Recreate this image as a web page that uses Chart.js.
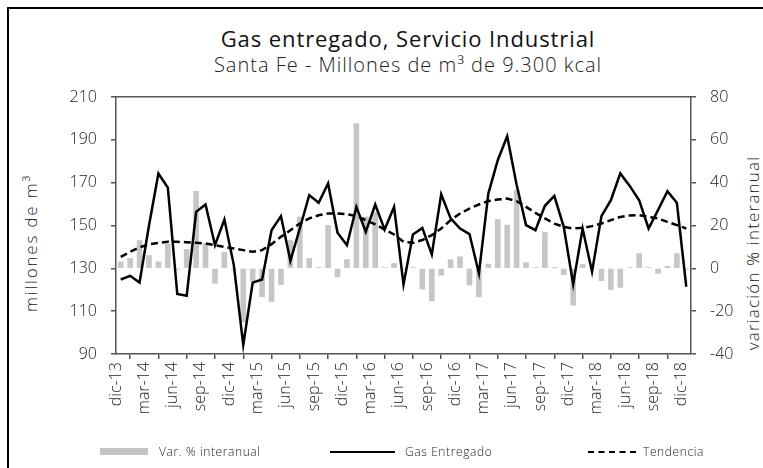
<!DOCTYPE html>
<html>
<head>
<meta charset="utf-8">
<script src="https://cdn.jsdelivr.net/npm/chart.js@4.4.0/dist/chart.umd.min.js"></script>
<style>
  html, body { margin: 0; padding: 0; background: #fff; }
  #wrap { position: relative; width: 763px; height: 468px; overflow: hidden; font-family: "Open Sans", Lato, sans-serif; color: #111; }
  #frame { position: absolute; left: 7px; top: 7px; width: 800px; height: 500px; border-left: 2px solid #000; border-top: 2px solid #000; }
  #title { position: absolute; left: 0; width: 816px; top: 23px; text-align: center; font-size: 22px; letter-spacing: 0.9px; }
  #subtitle { position: absolute; left: 0; width: 816px; top: 51px; text-align: center; font-size: 20px; font-weight: 300; letter-spacing: 1px; color: #222; }
  .ytitle { position: absolute; font-size: 17px; font-weight: 300; letter-spacing: 1.2px; white-space: nowrap; transform: translate(-50%, -50%) rotate(-90deg); color: #222; }
  #legend { position: absolute; top: 443px; left: 0; width: 763px; height: 18px; font-size: 12px; font-weight: 300; letter-spacing: 0.6px; color: #222; }
  .lg { position: absolute; top: 0; line-height: 17px; }
  .sw { position: absolute; }
  canvas { position: absolute; left: 0; top: 0; }
</style>
</head>
<body>
<div id="wrap">
  <div id="frame"></div>
  <div id="title">Gas entregado, Servicio Industrial</div>
  <div id="subtitle">Santa Fe - Millones de m³ de 9.300 kcal</div>
  <div class="ytitle" style="left:30px;top:243px;letter-spacing:1.8px">millones de m³</div>
  <div class="ytitle" style="left:752px;top:253px">variación % interanual</div>
  <canvas id="c" width="763" height="468"></canvas>
  <div id="legend">
    <div class="sw" style="left:100px;top:5px;width:48px;height:7px;background:#c4c4c4"></div>
    <div class="lg" style="left:159px">Var. % interanual</div>
    <div class="sw" style="left:330px;top:8px;width:65px;border-top:2.5px solid #000"></div>
    <div class="lg" style="left:405px">Gas Entregado</div>
    <div class="sw" style="left:588px;top:8px;width:48px;border-top:2.5px dashed #000"></div>
    <div class="lg" style="left:643px">Tendencia</div>
  </div>
</div>
<script>
// dic-13 .. dic-18, mensual
const months = [
  'dic-13','ene-14','feb-14','mar-14','abr-14','may-14','jun-14','jul-14','ago-14','sep-14','oct-14','nov-14',
  'dic-14','ene-15','feb-15','mar-15','abr-15','may-15','jun-15','jul-15','ago-15','sep-15','oct-15','nov-15',
  'dic-15','ene-16','feb-16','mar-16','abr-16','may-16','jun-16','jul-16','ago-16','sep-16','oct-16','nov-16',
  'dic-16','ene-17','feb-17','mar-17','abr-17','may-17','jun-17','jul-17','ago-17','sep-17','oct-17','nov-17',
  'dic-17','ene-18','feb-18','mar-18','abr-18','may-18','jun-18','jul-18','ago-18','sep-18','oct-18','nov-18',
  'dic-18'
];
const xTickLabels = ['dic-13','mar-14','jun-14','sep-14','dic-14','mar-15','jun-15','sep-15','dic-15','mar-16','jun-16',
  'sep-16','dic-16','mar-17','jun-17','sep-17','dic-17','mar-18','jun-18','sep-18','dic-18'];

// millones de m3
const gasEntregado = [
  124.8, 126.5, 123.4, 150.0, 174.3, 167.7, 118.0, 117.2, 156.4, 159.8, 140.8, 152.8,
  131.5, 94.2, 123.3, 124.8, 147.8, 154.4, 133.5, 148.6, 164.2, 160.6, 169.6, 146.6,
  140.8, 158.7, 147.0, 159.8, 148.1, 158.7, 122.5, 145.8, 148.9, 136.5, 164.6, 153.3,
  148.6, 146.0, 127.6, 164.9, 180.5, 191.7, 169.0, 150.2, 147.8, 159.2, 163.8, 149.4,
  122.6, 148.6, 128.4, 154.4, 161.8, 174.3, 168.5, 161.8, 148.6, 157.2, 166.0, 160.6,
  121.4
];
const tendencia = [
  135.4, 137.7, 139.8, 141.2, 141.9, 142.4, 142.4, 142.2, 141.9, 141.6, 140.8, 140.0,
  139.3, 138.5, 137.7, 138.5, 141.3, 144.7, 147.8, 150.9, 153.3, 154.8, 155.6, 155.6,
  155.3, 154.4, 152.5, 150.5, 148.1, 145.8, 142.4, 141.9, 143.2, 145.5, 148.6, 152.5,
  155.6, 157.9, 159.8, 161.4, 162.1, 162.6, 161.4, 158.7, 155.9, 153.3, 150.9, 149.4,
  148.6, 148.9, 149.7, 150.9, 152.5, 154.0, 154.7, 154.8, 154.0, 153.3, 151.7, 150.2,
  148.6
];
// variación % interanual
const varInteranual = [
  3.0, 4.6, 13.0, 6.0, 3.0, 11.3, -0.5, 8.8, 36.0, 11.6, -7.0, 7.5,
  -0.5, -25.0, -6.0, -13.3, -15.5, -7.6, 13.0, 24.0, 4.6, 0.3, 20.0, -4.0,
  4.1, 67.6, 24.0, 26.0, 0.3, 2.3, -0.3, 0.3, -9.7, -15.2, -3.2, 4.1,
  5.4, -7.8, -13.3, 2.0, 22.8, 20.2, 36.5, 2.7, 0.3, 16.7, 0.2, -2.9,
  -17.2, 1.8, 0.3, -5.8, -9.9, -8.9, 0.4, 6.9, 0.3, -2.4, 1.0, 6.9,
  -0.5
];

const pts = arr => arr.map((v, i) => ({ x: i, y: v }));
const axisColor = '#555';
const tickFont = { family: '"Open Sans", Lato, sans-serif', size: 16, weight: '300' };

new Chart(document.getElementById('c'), {
  type: 'bar',
  data: {
    datasets: [
      {
        type: 'line', label: 'Gas Entregado', data: pts(gasEntregado), yAxisID: 'y',
        borderColor: '#000', borderWidth: 2.5, pointRadius: 0, tension: 0, order: 0
      },
      {
        type: 'line', label: 'Tendencia', data: pts(tendencia), yAxisID: 'y',
        borderColor: '#000', borderWidth: 2.5, borderDash: [7, 4], pointRadius: 0, tension: 0, order: 1
      },
      {
        type: 'bar', label: 'Var. % interanual', data: pts(varInteranual), yAxisID: 'y2',
        backgroundColor: '#c6c6c6', barThickness: 5, order: 2
      }
    ]
  },
  options: {
    responsive: false,
    animation: false,
    devicePixelRatio: 1,
    layout: { padding: { top: 97, left: 0, right: 0, bottom: 30 } },
    plugins: { legend: { display: false }, tooltip: { enabled: false } },
    scales: {
      x: {
        type: 'linear', position: 'bottom', min: -0.5, max: 60.5, offset: false,
        afterBuildTicks: s => { s.ticks = xTickLabels.map((_, k) => ({ value: k * 3 - 0.5 })); },
        afterFit: s => { s.height = 84; },
        ticks: {
          autoSkip: false, minRotation: 90, maxRotation: 90, padding: 3,
          color: '#222', font: { family: tickFont.family, size: 16, weight: '300' },
          callback: (v, i) => xTickLabels[i]
        },
        grid: { drawOnChartArea: false, drawTicks: true, tickLength: 5, color: axisColor, lineWidth: 1.5 },
        border: { color: axisColor, width: 1.5 }
      },
      xTop: {
        type: 'linear', position: 'top', min: -0.5, max: 60.5,
        ticks: { display: false },
        grid: { drawOnChartArea: false, drawTicks: false },
        border: { color: axisColor, width: 1.5 },
        afterFit: s => { s.height = 0; }
      },
      y: {
        position: 'left', min: 90, max: 210,
        afterFit: s => { s.width = 116; },
        ticks: { stepSize: 20, padding: 14, color: '#222', font: tickFont },
        grid: { drawOnChartArea: false, tickLength: 5, color: axisColor, lineWidth: 1.5 },
        border: { color: axisColor, width: 1.5 }
      },
      y2: {
        position: 'right', min: -40, max: 80,
        afterFit: s => { s.width = 72; },
        ticks: { stepSize: 20, padding: 14, color: '#222', font: tickFont },
        grid: { drawOnChartArea: false, tickLength: 5, color: axisColor, lineWidth: 1.5 },
        border: { color: axisColor, width: 1.5 }
      }
    }
  }
});
</script>
</body>
</html>
